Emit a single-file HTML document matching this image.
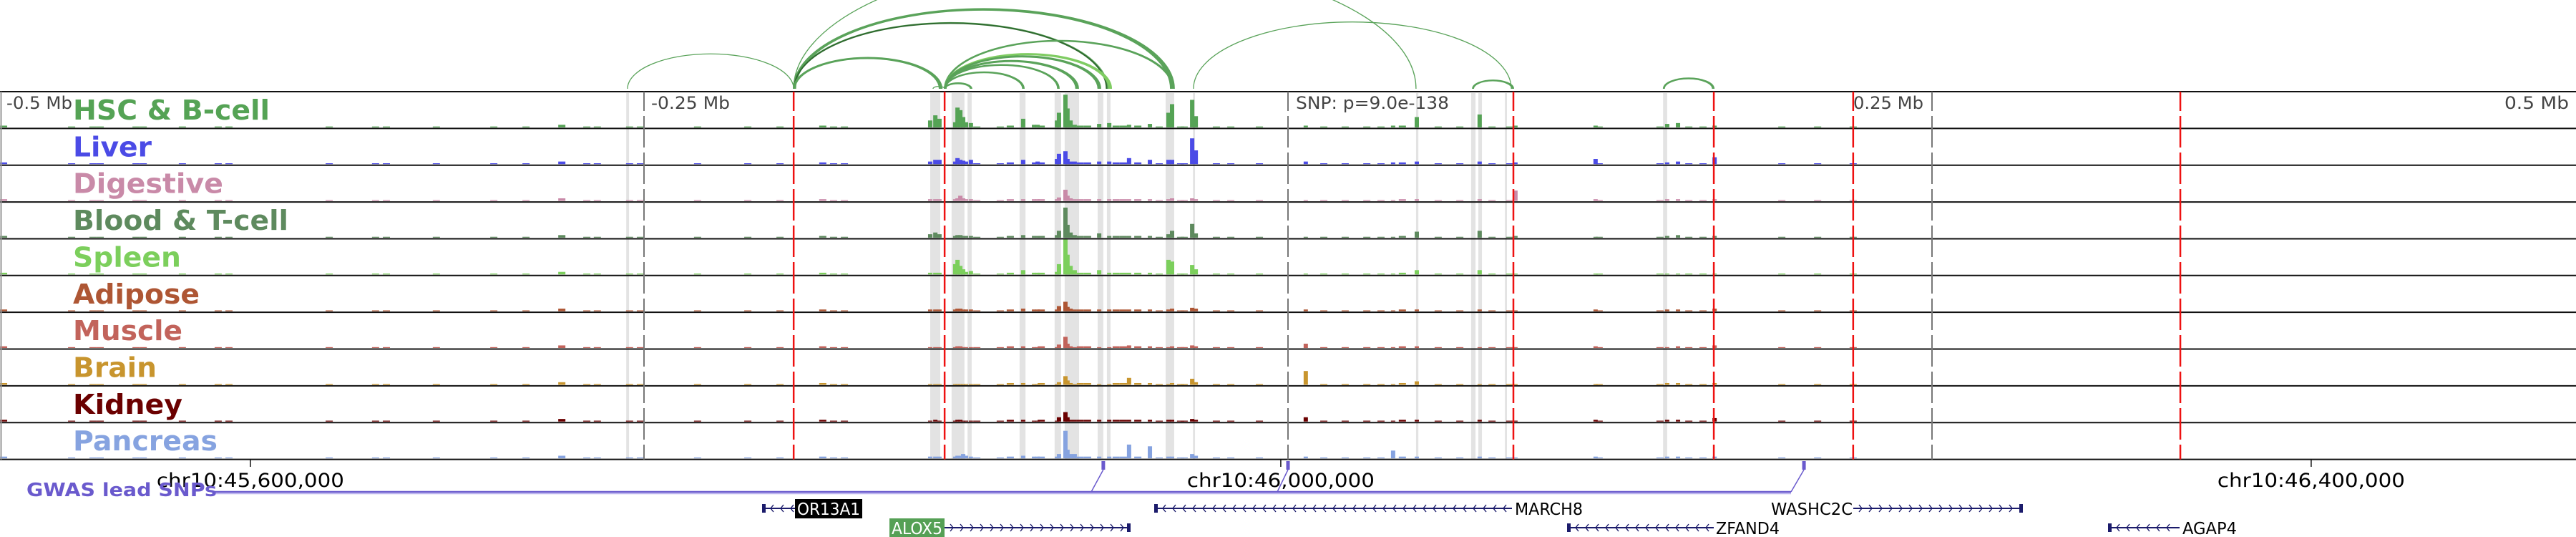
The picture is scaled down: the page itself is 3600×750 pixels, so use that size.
<!DOCTYPE html>
<html><head><meta charset="utf-8"><style>
html,body{margin:0;padding:0;background:#fff;}
svg{display:block;}
text{font-family:"DejaVu Sans","Liberation Sans",sans-serif;}
</style></head><body>
<svg id="fig" width="3600" height="750" viewBox="0 0 3600 750" xmlns="http://www.w3.org/2000/svg">
<g id="bands"></g>
<g id="arcs"></g>
<g id="signals"></g>
<g id="frame"></g>
<g id="vlines"></g>
<g id="labels"></g>
<g font-size="24" fill="#444">
<text x="9" y="152" textLength="92" lengthAdjust="spacingAndGlyphs">-0.5 Mb</text>
<text x="910" y="152" textLength="110" lengthAdjust="spacingAndGlyphs">-0.25 Mb</text>
<text x="1811" y="152" textLength="214" lengthAdjust="spacingAndGlyphs">SNP: p=9.0e-138</text>
<text x="2590" y="152" textLength="98" lengthAdjust="spacingAndGlyphs">0.25 Mb</text>
<text x="3500" y="152" textLength="90" lengthAdjust="spacingAndGlyphs">0.5 Mb</text>
</g>
<g id="axis"></g>
<g id="gwas"></g>
<g id="genes"></g>
</svg>
<script>
// ---- data ----
const trackNames = ["HSC & B-cell","Liver","Digestive","Blood & T-cell","Spleen","Adipose","Muscle","Brain","Kidney","Pancreas"];
const trackColors = ["#55a355","#4b4be6","#c98aa8","#5e8a5e","#7ccf5c","#ae5634","#c2635b","#c8952e","#6b0000","#86a3e0"];
const labelWidths = [275,110,210,301,151,177,153,117,153,202];
const peakKb = [-138.9,-136.9,-135.3,-129.2,-128.3,-127.2,-126.1,-125,-123.1,-102.8,-98.6,-97.2,-89.7,-88.9,-86.4,-85.6,-84.4,-82.8,-73.3,-69.4,-61.7,-53.6,-46.4,-45,-37.2,-35.8,6.9,40.8,50,74.4,88.3,119.4,147.2,151.4,165.6];
const hsc    = [8,14,10,6,23,20,12,6,5,10,3,3,8,17,38,22,8,3,4,5,3,4,17,27,32,13,2,2,12,15,2,2,4,5,2];
const liver  = [3,5,5,3,7,5,4,3,5,5,2,3,6,12,15,6,3,3,3,3,7,5,5,5,30,16,3,2,3,3,2,6,2,3,8];
const digest = [2,2,2,2,3,6,3,2,2,2,2,2,2,4,13,6,3,2,2,2,2,2,2,3,3,2,1,1,2,2,12,2,2,2,2];
const blood  = [4,6,4,2,3,3,2,2,2,3,2,2,3,8,35,15,6,3,5,2,2,2,4,8,16,5,1,1,7,8,2,1,2,3,2];
const spleen = [2,2,2,12,17,10,6,3,4,5,2,2,3,12,42,23,10,5,5,2,2,2,17,15,11,6,1,1,5,5,1,1,1,1,1];
const adipose= [2,2,2,2,3,3,2,2,2,3,2,2,2,6,11,5,3,2,2,2,2,2,2,3,4,3,2,1,2,2,1,2,2,2,3];
const muscle = [1,1,1,1,2,2,1,1,1,2,1,1,1,4,13,5,2,1,1,1,3,2,1,2,3,2,5,1,2,1,1,2,1,2,3];
const brain  = [1,1,1,1,1,1,1,1,1,2,1,1,1,3,10,5,2,1,1,1,8,2,1,2,7,3,16,1,4,1,1,1,2,2,2];
const kidney = [1,2,1,1,2,2,1,1,1,2,1,1,1,5,11,5,2,2,2,2,2,2,2,2,3,2,5,1,2,2,1,2,2,2,4];
const pancreas=[2,2,2,2,3,3,5,3,2,3,2,2,2,5,32,10,5,5,2,2,16,14,2,2,5,3,2,9,2,2,1,2,2,2,2];
const trackValues = [hsc,liver,digest,blood,spleen,adipose,muscle,brain,kidney,pancreas];
const noiseKb = [-498.6,-472.2,-463.9,-461.1,-447.2,-444.4,-429.2,-415.3,-411.1,-372.2,-354.2,-350,-330.6,-308.3,-295.8,-281.9,-272.2,-268.1,-255.6,-251.4,-229.2,-209.7,-197.2,-180.6,-176.4,-172.2,-120.8,-111.7,-107.8,-95.8,-80.6,-77.8,-66.7,-63.9,-58.3,-50,-41.7,-40.3,-27.8,-22.2,-11.1,13.9,22.2,30.6,36.1,44.4,58.3,66.7,79.2,86.1,120.8,144.4,155.6,161.1,191.7,205.6,219.4];
const noiseH  = [2,1,1,1,1,1,1,1,1,1,1,1,1,1,1,3,1,1,1,1,1,1,1,2,1,1,1,1,2,2,2,2,2,2,2,1,1,1,1,1,1,1,1,1,1,2,1,1,1,1,1,1,1,1,1,1,1];
const bandKb = [[-256.9,-255.8],[-138.9,-135],[-130.6,-125.6],[-124.4,-122.8],[-104.2,-101.9],[-90.6,-88.1],[-86.7,-81.1],[-73.9,-71.7],[-70.3,-68.9],[-47.5,-44.2],[-36.9,-36.1],[49.7,50.6],[71.1,72.8],[73.9,75.3],[84.2,85],[145.6,147.2]];
const redKb = [-191.9,-133.3,87.5,165.3,219.4,346.4];
const grayKb = [-250,0,250];
const arcFrom = [-256.4,-191.9,-191.9,-191.9,-191.9,-133.3,-133.3,-133.3,-133.3,-133.3,-133.3,-133.3,-137.8,-36.7,71.7,145.8];
const arcTo   = [-191.9,49.7,-44.2,-70,-134.4,-44.4,-68.6,-72.8,-81.4,-88.9,-102.5,-122.8,-133.3,86.7,87.5,165.3];
const arcStrands = [1,1,4,2,3,2,3,3,3,2,2,2,1,1,2,2];
const axisTickKb = [-402.8,-2.8,397.2];
const axisTickLabels = ["chr10:45,600,000","chr10:46,000,000","chr10:46,400,000"];
const snpKb = [-71.7,0,200.3];

// ---- scales ----
const NS="http://www.w3.org/2000/svg";
const xs = kb => 1800 + kb*3.6;
const TOP=128, TH=51.36, NT=10;
const ys = v => v*1.2;
function mk(tag, attrs, parent){const e=document.createElementNS(NS,tag);for(const k in attrs)e.setAttribute(k,attrs[k]);parent.appendChild(e);return e;}
const G = id => document.getElementById(id);

bandKb.forEach(b=>{
  const r=mk('rect',{x:xs(b[0]),y:TOP+2,width:Math.max(2,xs(b[1])-xs(b[0])),height:TH*NT-3,fill:'#e3e3e3'},G('bands'));
  
  
});
arcFrom.forEach((a,i)=>{
  const n=arcStrands[i];
  for(let s=0;s<n;s++){
    const x1=xs(a)+s*0.8, x2=xs(arcTo[i])-s*1.6, w=x2-x1, h=Math.abs(w)*0.21;
    const p=mk('path',{d:`M${x1} 124 A${Math.abs(w)/2} ${h} 0 0 ${w>0?1:0} ${x2} 124`,fill:'none',stroke:(i===6?'#7fcc62':(i===3&&s===1?'#2f6a2f':'#5aa35a')),'stroke-width':n>1?2:1.3},G('arcs'));
    
    
  }
});
trackValues.forEach((vals,t)=>{
  const base = TOP+(t+1)*TH-1.5;
  const g=mk('g',{fill:trackColors[t]},G('signals'));
  
  
  noiseKb.forEach((k,i)=>{
    const h=ys(noiseH[i]);
    const r=mk('rect',{x:xs(k)-5,y:base-h,width:10,height:h},g);
    
    
  });
  peakKb.forEach((k,i)=>{
    const h=ys(vals[i]);
    const r=mk('rect',{x:xs(k)-3,y:base-h,width:6,height:h},g);
    
    
  });
});
for(let i=0;i<=NT;i++){
  const l=mk('line',{x1:0,x2:3600,y1:TOP+i*TH,y2:TOP+i*TH,stroke:'#111','stroke-width':2},G('frame'));
  
  
}
{const l=mk('line',{x1:1.5,x2:1.5,y1:TOP,y2:TOP+NT*TH,stroke:'#999','stroke-width':2},G('frame'));

}
grayKb.forEach(k=>{
  const l=mk('line',{x1:xs(k),x2:xs(k),y1:TOP,y2:TOP+NT*TH,stroke:'#777','stroke-width':2,'stroke-dasharray':'44 7','stroke-dashoffset':'-34'},G('vlines'));
  
  
});
redKb.forEach(k=>{
  const l=mk('line',{x1:xs(k),x2:xs(k),y1:TOP,y2:TOP+NT*TH,stroke:'#ee1111','stroke-width':2.5,'stroke-dasharray':'44 7','stroke-dashoffset':'-34'},G('vlines'));
  
  
});
trackNames.forEach((n,t)=>{
  const tx=mk('text',{x:102,y:TOP+t*TH+39,'font-size':38,'font-weight':'bold',fill:trackColors[t],textLength:labelWidths[t],lengthAdjust:'spacingAndGlyphs'},G('labels'));
  tx.textContent=n;
  
  
});
axisTickKb.forEach((k,i)=>{
  const l=mk('line',{x1:xs(k),x2:xs(k),y1:642,y2:652,stroke:'#111','stroke-width':1.5},G('axis'));
  
  
  const tx=mk('text',{x:xs(k)-131,y:680,'font-size':27,fill:'#000',textLength:262,lengthAdjust:'spacingAndGlyphs'},G('axis'));
  tx.textContent=axisTickLabels[i];
  
  
});
{
  const g=G('gwas');
  const ln=mk('line',{x1:300,x2:2503,y1:687,y2:687,stroke:'#6a5acd','stroke-width':2.5},g);
  
  
  const ln2=mk('line',{x1:300,x2:2503,y1:689.5,y2:689.5,stroke:'#b8b0ee','stroke-width':1.5},g);
  
  
  const foot=[1525,1785,2503];
  snpKb.forEach((k,i)=>{
    const r=mk('rect',{x:xs(k)-2.5,y:644,width:5,height:12,fill:'#6a5acd'},g);
    
    
    const d=mk('line',{x1:xs(k),y1:656,x2:foot[i],y2:687,stroke:'#6a5acd','stroke-width':1.5},g);
    
    
  });
  const t=mk('text',{x:37,y:693,'font-size':26,'font-weight':'bold',fill:'#6a5acd',textLength:266,lengthAdjust:'spacingAndGlyphs'},g);
  t.textContent='GWAS lead SNPs';
  
  
}
const genes=[
 {n:'OR13A1',x1:1065,x2:1111,y:710,dir:-1,lab:'box',bx:1111,bw:94,bg:'#000',fg:'#fff'},
 {n:'ALOX5',x1:1320,x2:1580,y:737,dir:1,lab:'box',bx:1243,bw:77,bg:'#55a055',fg:'#fff'},
 {n:'MARCH8',x1:1613,x2:2113,y:710,dir:-1,lab:'right',lx:2117,lw:95},
 {n:'WASHC2C',x1:2590,x2:2827,y:710,dir:1,lab:'left',lx:2475,lw:114},
 {n:'ZFAND4',x1:2190,x2:2395,y:737,dir:-1,lab:'right',lx:2398,lw:89},
 {n:'AGAP4',x1:2946,x2:3046,y:737,dir:-1,lab:'right',lx:3050,lw:76}
];
genes.forEach(gn=>{
  const g=mk('g',{},G('genes'));
  
  
  mk('line',{x1:gn.x1,x2:gn.x2,y1:gn.y,y2:gn.y,stroke:'#1b1b6b','stroke-width':2},g);
  mk('rect',{x:gn.dir<0?gn.x1:gn.x2-5,y:gn.y-6,width:5,height:12,fill:'#1b1b6b'},g);
  for(let x=gn.x1+12;x<gn.x2-4;x+=14){
    const d=gn.dir<0?`M${x+4} ${gn.y-5} L${x} ${gn.y} L${x+4} ${gn.y+5}`:`M${x-4} ${gn.y-5} L${x} ${gn.y} L${x-4} ${gn.y+5}`;
    mk('path',{d:d,fill:'none',stroke:'#1b1b6b','stroke-width':1.4},g);
  }
  let t;
  if(gn.lab==='box'){
    mk('rect',{x:gn.bx,y:gn.y-13,width:gn.bw,height:27,fill:gn.bg},g);
    t=mk('text',{x:gn.bx+3,y:gn.y+9,'font-size':23,fill:gn.fg,textLength:gn.bw-6,lengthAdjust:'spacingAndGlyphs'},g);
  } else {
    t=mk('text',{x:gn.lx,y:gn.y+9,'font-size':23,fill:'#000',textLength:gn.lw,lengthAdjust:'spacingAndGlyphs'},g);
  }
  t.textContent=gn.n;
  
  
});
</script>
</body></html>
